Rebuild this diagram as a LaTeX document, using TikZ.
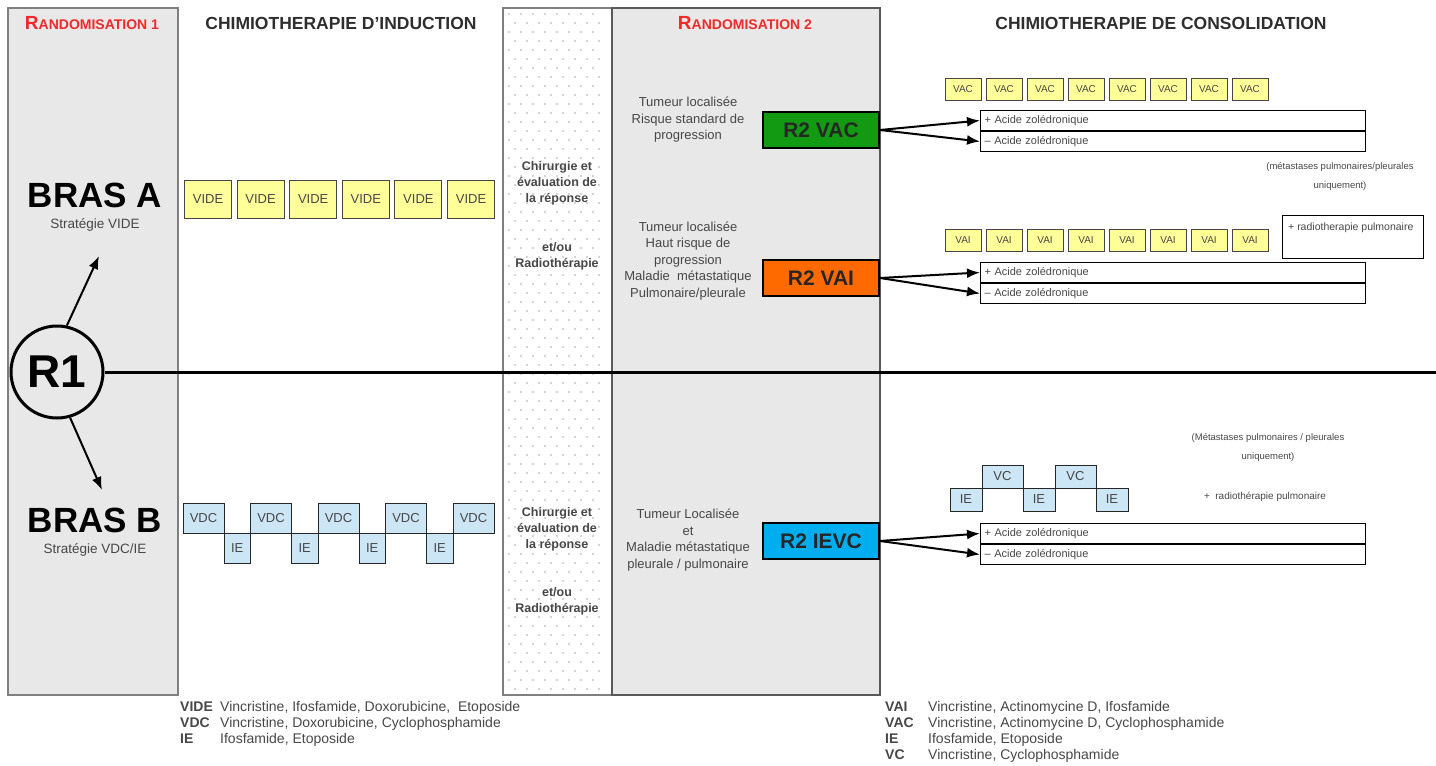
\documentclass[tikz,border=0pt]{standalone}
\usepackage{fontspec}
\setmainfont{Liberation Sans}
\usetikzlibrary{positioning,arrows.meta}

\definecolor{colgray}{HTML}{E8E8E8}
\definecolor{randred}{HTML}{EE2A2A}
\definecolor{boxyellow}{HTML}{FFFF99}
\definecolor{boxblue}{HTML}{CCE6F6}
\definecolor{vacgreen}{HTML}{129A12}
\definecolor{vaiorange}{HTML}{FF6A00}
\definecolor{ievcblue}{HTML}{00AEEF}
\definecolor{txtgray}{HTML}{474747}
\definecolor{titlegray}{HTML}{2E2E2E}
\definecolor{dotgray}{HTML}{A8A8A8}

\tikzset{
  colbox/.style={fill=colgray, draw=gray, line width=1.5pt},
  title/.style={font=\bfseries\fontsize{17.5}{17.5}\selectfont, text=titlegray},
  redtitle/.style={font=\bfseries, text=randred},
  bras/.style={font=\bfseries\fontsize{35}{35}\selectfont},
  strat/.style={font=\fontsize{13.5}{13.5}\selectfont, text=txtgray, inner sep=0pt},
  videbox/.style={draw=gray!55!black, fill=boxyellow, line width=1pt, minimum width=47pt,
    minimum height=38pt, inner sep=0pt, font=\fontsize{13}{13}\selectfont, text=txtgray},
  vdcbox/.style={draw=gray!30!black, fill=boxblue, line width=1pt, minimum width=41pt,
    minimum height=30pt, inner sep=0pt, outer sep=0pt, font=\fontsize{13}{13}\selectfont, text=txtgray},
  iebox/.style={vdcbox, minimum width=26.5pt},
  surg/.style={align=center, font=\bfseries\fontsize{12.5}{16}\selectfont, text=txtgray},
  tum/.style={align=center, font=\fontsize{13}{16.5}\selectfont, text=txtgray},
  r2box/.style={draw, line width=2pt, minimum width=116pt, minimum height=36pt,
    font=\bfseries\fontsize{21}{21}\selectfont, text=black!85},
  accbox/.style={draw, line width=1pt, minimum height=20pt, text width=377pt, inner xsep=4pt,
    inner ysep=0pt, align=left, anchor=north west, font=\fontsize{11}{11}\selectfont, text=txtgray},
  vacbox/.style={draw=gray!55!black, fill=boxyellow, line width=1pt, minimum width=36pt,
    minimum height=22pt, inner sep=0pt, font=\fontsize{10}{10}\selectfont, text=txtgray},
  consie/.style={vdcbox, minimum width=32pt, minimum height=23pt},
  consvc/.style={vdcbox, minimum width=41pt, minimum height=23pt},
  note/.style={align=center, font=\fontsize{9.5}{19}\selectfont, text=txtgray},
  legend/.style={anchor=north west, inner sep=0pt, font=\fontsize{14}{16}\selectfont, text=txtgray},
  branch/.style={-{Latex[length=13pt,width=10pt]}, line width=2pt}
}

\begin{document}
\begin{tikzpicture}[x=1pt,y=-1pt]
\useasboundingbox (0,0) rectangle (1436,766);

% columns
\draw[colbox] (8,8) rectangle (178,695);
\fill[white] (503,8) rectangle (612,695);
\foreach \r in {0,...,75} {
  \pgfmathsetmacro\sh{6*mod(\r,2)}
  \foreach \c in {0,...,7}
    \fill[dotgray] ({509+12*\c+\sh},{14+9*\r}) circle[radius=0.8pt];
}
\draw[gray, line width=1.2pt] (503,8) rectangle (612,695);
\draw[colbox, draw=gray!70!black] (612,8) rectangle (880,695);

% headers
\node[redtitle] (rand1) at (92,23) {\fontsize{19}{19}\selectfont R\fontsize{14}{14}\selectfont ANDOMISATION 1};
\node[title] (induction) at (341,23) {CHIMIOTHERAPIE D'INDUCTION};
\node[redtitle] (rand2) at (745,23) {\fontsize{19}{19}\selectfont R\fontsize{14}{14}\selectfont ANDOMISATION 2};
\node[title] (consol) at (1161,23) {CHIMIOTHERAPIE DE CONSOLIDATION};

% randomisation 1
\node[draw, circle, line width=3pt, minimum size=92pt, inner sep=0pt,
  font=\bfseries\fontsize{46}{46}\selectfont] (R1) at (57,372) {R1};
\coordinate (lineEnd) at (1436,372);
\draw[line width=3pt] (R1) -- (lineEnd);

\node[bras] (brasA) at (95,195) {BRAS A};
\node[strat, below=7pt of brasA] (stratA) {Stratégie VIDE};
\node[bras] (brasB) at (95,520) {BRAS B};
\node[strat, below=7pt of brasB] (stratB) {Stratégie VDC/IE};

\coordinate (tipA) at (99,256);
\coordinate (tipB) at (102,490);
\draw[branch] (R1.78) -- (tipA);
\draw[branch] (R1.-74) -- (tipB);

% induction
\foreach \i in {1,...,6}
  \node[videbox] (vide\i) at ({208+52.6*(\i-1)},199) {VIDE};

\node[vdcbox] (vdc1) at (203.5,518) {VDC};
\foreach \i [count=\j from 2] in {1,...,4} {
  \node[iebox, anchor=north west] (ie\i) at (vdc\i.south east) {IE};
  \node[vdcbox, anchor=south west] (vdc\j) at (ie\i.north east) {VDC};
}

% chirurgie
\node[surg] (surgA) at (557,183) {Chirurgie et\\évaluation de\\la réponse};
\node[surg] (radA) at (557,256) {et/ou\\Radiothérapie};
\node[surg] (surgB) at (557,529) {Chirurgie et\\évaluation de\\la réponse};
\node[surg] (radB) at (557,601) {et/ou\\Radiothérapie};

% randomisation 2
\node[tum] (tumVAC) at (688,120) {Tumeur localisée\\Risque standard de\\progression};
\node[tum] (tumVAI) at (688,261) {Tumeur localisée\\Haut risque de\\progression\\Maladie~~métastatique\\Pulmonaire/pleurale};
\node[tum] (tumIEVC) at (688,540) {Tumeur Localisée\\et\\Maladie métastatique\\pleurale / pulmonaire};

\node[r2box, fill=vacgreen] (r2vac) at (821,130) {R2 VAC};
\node[r2box, fill=vaiorange] (r2vai) at (821,278) {R2 VAI};
\node[r2box, fill=ievcblue] (r2ievc) at (821,541) {R2 IEVC};

% consolidation
\foreach \i in {1,...,8} {
  \node[vacbox] (vac\i) at ({963+41*(\i-1)},89) {VAC};
  \node[vacbox] (vai\i) at ({963+41*(\i-1)},240) {VAI};
}

\node[accbox] (vacplus) at (980,110) {+ Acide zolédronique};
\node[accbox, below=0pt of vacplus] (vacminus) {– Acide zolédronique};
\node[accbox] (vaiplus) at (980,262) {+ Acide zolédronique};
\node[accbox, below=0pt of vaiplus] (vaiminus) {– Acide zolédronique};
\node[accbox] (ievcplus) at (980,523) {+ Acide zolédronique};
\node[accbox, below=0pt of ievcplus] (ievcminus) {– Acide zolédronique};

\draw[branch] (r2vac.east) -- (vacplus.west);
\draw[branch] (r2vac.east) -- (vacminus.west);
\draw[branch] (r2vai.east) -- (vaiplus.west);
\draw[branch] (r2vai.east) -- (vaiminus.west);
\draw[branch] (r2ievc.east) -- (ievcplus.west);
\draw[branch] (r2ievc.east) -- (ievcminus.west);

\node[note] (noteVAC) at (1340,176) {(métastases pulmonaires/pleurales\\uniquement)};
\node[draw, line width=1pt, minimum width=141pt, minimum height=43pt, anchor=north west] (radbox) at (1282,215) {};
\node[note, anchor=north west, inner sep=0pt, font=\fontsize{10.5}{12}\selectfont] (radVAI) at ([xshift=6pt,yshift=-8pt]radbox.north west) {+ radiotherapie pulmonaire};

\node[consie] (cie1) at (966,499.5) {IE};
\foreach \i [count=\j from 2] in {1,2} {
  \node[consvc, anchor=south west] (cvc\i) at (cie\i.north east) {VC};
  \node[consie, anchor=north west] (cie\j) at (cvc\i.south east) {IE};
}
\node[note] (noteIEVC) at (1268,447) {(Métastases pulmonaires / pleurales\\uniquement)};
\node[note, font=\fontsize{10}{12}\selectfont] (radIEVC) at (1265,497) {+~~radiothérapie pulmonaire};

% legends
\node[legend] (legInd) at (180,700) {\begin{tabular}{@{}p{40pt}@{}l@{}}
  \textbf{VIDE} & Vincristine, Ifosfamide, Doxorubicine,~~Etoposide\\
  \textbf{VDC} & Vincristine, Doxorubicine, Cyclophosphamide\\
  \textbf{IE} & Ifosfamide, Etoposide
\end{tabular}};
\node[legend] (legCons) at (885,700) {\begin{tabular}{@{}p{43pt}@{}l@{}}
  \textbf{VAI} & Vincristine, Actinomycine D, Ifosfamide\\
  \textbf{VAC} & Vincristine, Actinomycine D, Cyclophosphamide\\
  \textbf{IE} & Ifosfamide, Etoposide\\
  \textbf{VC} & Vincristine, Cyclophosphamide
\end{tabular}};
\end{tikzpicture}
\end{document}
